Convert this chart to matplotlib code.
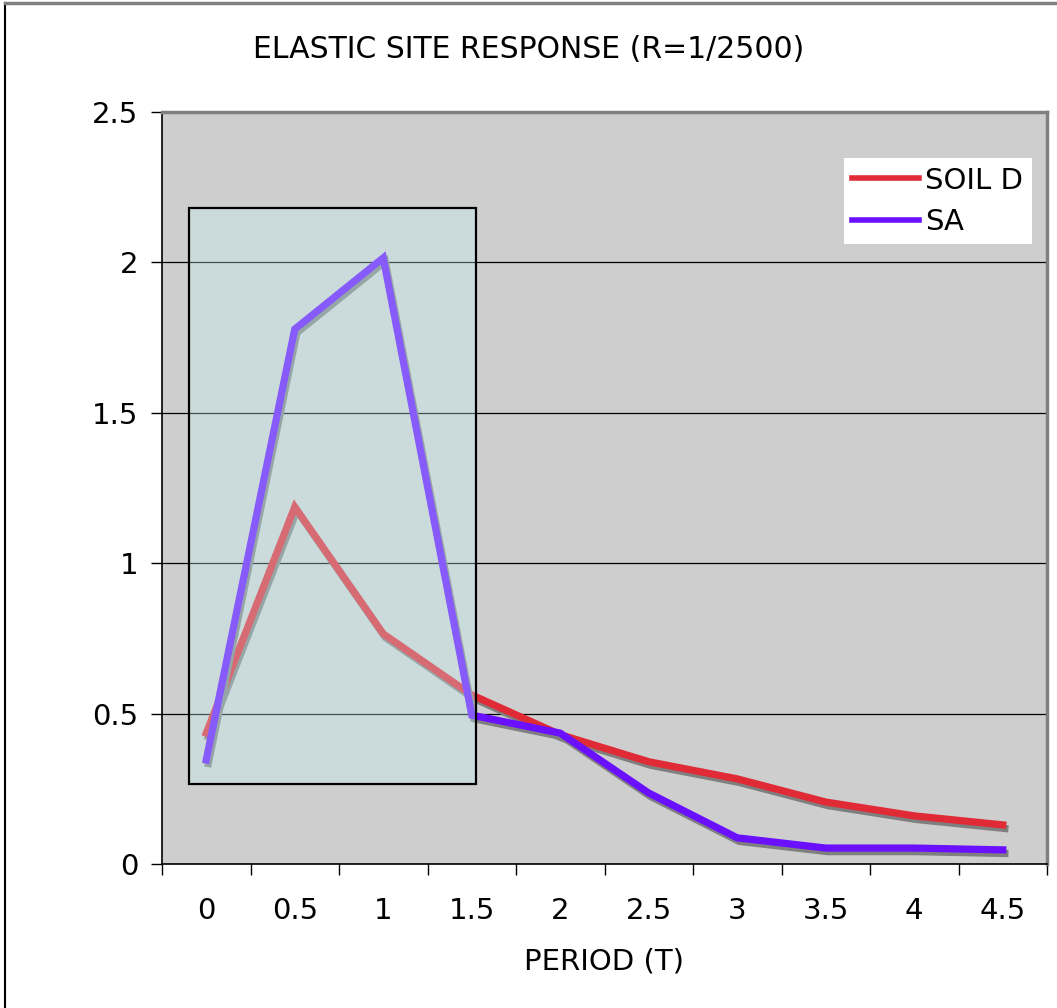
import numpy as np
import matplotlib.pyplot as plt
import matplotlib.patheffects as pe
from matplotlib.patches import Rectangle
from matplotlib.lines import Line2D

# period categories and response values
periods = ["0", "0.5", "1", "1.5", "2", "2.5", "3", "3.5", "4", "4.5"]
soil_d = [0.435, 1.187, 0.765, 0.562, 0.43, 0.34, 0.283, 0.206, 0.16, 0.13]
sa = [0.346, 1.778, 2.015, 0.495, 0.435, 0.236, 0.087, 0.053, 0.053, 0.047]

# highlight box (category index / value units)
box_x = (-0.2, 3.05)
box_y = (0.266, 2.181)

fig = plt.figure(figsize=(10.57, 10.08), dpi=100)
ax = fig.add_axes([162/1057, 144/1008, 885/1057, 752/1008])
ax.set_facecolor("#cecece")

x = np.arange(len(periods))
shadow = [pe.SimpleLineShadow(offset=(1.5, -2.6), shadow_color="#7f7f7f", alpha=1.0), pe.Normal()]
ax.plot(x, soil_d, color="#e02a36", lw=5.2, solid_joinstyle="miter",
        path_effects=shadow, label="SOIL D", zorder=3)
ax.plot(x, sa, color="#6a10ff", lw=5.2, solid_joinstyle="miter",
        path_effects=shadow, label="SA", zorder=3)

# translucent box over the first categories
ax.add_patch(Rectangle((box_x[0], box_y[0]), box_x[1] - box_x[0], box_y[1] - box_y[0],
                       facecolor=(0.78, 0.97, 0.97, 0.32), edgecolor="none", zorder=4))
ax.add_patch(Rectangle((box_x[0], box_y[0]), box_x[1] - box_x[0], box_y[1] - box_y[0],
                       facecolor="none", edgecolor="black", lw=1.6, zorder=5))

ax.set_xlim(-0.5, len(periods) - 0.5)
ax.set_ylim(0, 2.5)
ax.set_yticks(np.arange(0, 2.51, 0.5))
ax.set_yticklabels(["0", "0.5", "1", "1.5", "2", "2.5"])
ax.yaxis.grid(True, color="black", lw=0.9)
ax.set_axisbelow(True)

ax.set_xticks(np.arange(-0.5, len(periods), 1.0))
ax.set_xticklabels([])
ax.set_xticks(x, minor=True)
ax.set_xticklabels(periods, minor=True)
ax.tick_params(axis="x", which="major", direction="out", length=8, width=1, color="black")
ax.tick_params(axis="x", which="minor", length=0, pad=24, labelsize=21)
ax.tick_params(axis="y", direction="out", length=8, width=1, pad=9, labelsize=21)

for s in ["left", "bottom"]:
    ax.spines[s].set_color("black")
    ax.spines[s].set_linewidth(1.2)
for s in ["top", "right"]:
    ax.spines[s].set_color("#808080")
    ax.spines[s].set_linewidth(2.5)

ax.set_xlabel("PERIOD (T)", fontsize=21, labelpad=16)
fig.text(0.5, 1 - 50/1008, "ELASTIC SITE RESPONSE (R=1/2500)", ha="center", va="center",
         fontsize=21.5)

leg = ax.legend(loc="upper right", bbox_to_anchor=(0.983, 0.939), borderaxespad=0,
                fontsize=21, handlelength=2.3, handletextpad=0.2, labelspacing=0.45,
                fancybox=False, framealpha=1, edgecolor="none", borderpad=0.3)
for h in leg.get_lines():
    h.set_linewidth(4)
    h.set_path_effects([])

# outer chart border (left + top visible)
fig.add_artist(Line2D([5/1057, 5/1057], [0, 1 - 3/1008], color="black", lw=1.5))
fig.add_artist(Line2D([5/1057, 1], [1 - 3/1008, 1 - 3/1008], color="#808080", lw=2.5))

fig.savefig("out.png", dpi=100)
